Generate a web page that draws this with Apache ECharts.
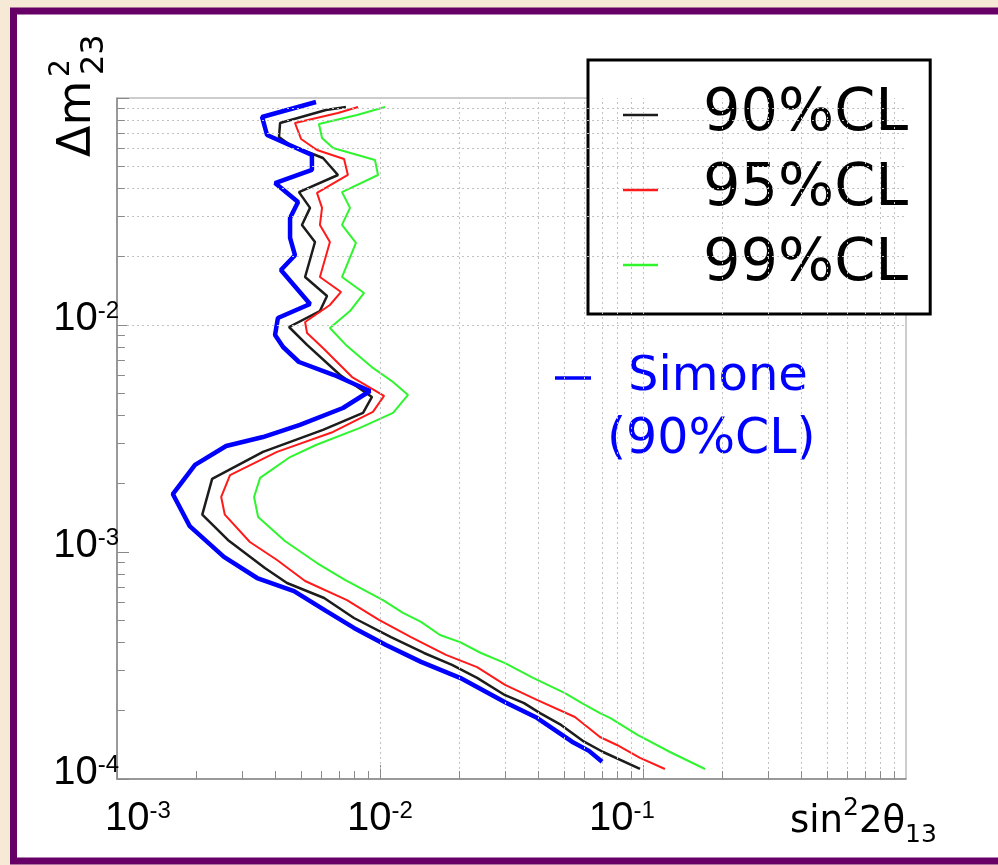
<!DOCTYPE html>
<html>
<head>
<meta charset="utf-8">
<title>sin22θ13 vs Δm223</title>
<script src="https://cdn.jsdelivr.net/npm/echarts@6/dist/echarts.min.js"></script>
<style>
  html, body { margin: 0; padding: 0; background: #f6e9d5; }
  #chart { width: 998px; height: 865px; }
</style>
</head>
<body>
<div id="chart"></div>
<script>
// contour points: x = sin^2 2theta13, y = dm^2_23
const cl90X = [7.42e-3, 6.23e-3, 4.17e-3, 4.13e-3, 4.55e-3, 6.07e-3, 6.92e-3, 4.92e-3, 5.42e-3, 5.05e-3, 5.66e-3, 5.19e-3, 6.29e-3, 5.91e-3, 4.51e-3, 5.28e-3, 7.05e-3, 9.32e-3, 8.62e-3, 6.07e-3, 3.59e-3, 2.30e-3, 2.11e-3, 2.64e-3, 3.65e-3, 4.43e-3, 6.13e-3, 7.96e-3, 1.101e-2, 1.470e-2, 1.878e-2, 2.34e-2, 2.99e-2, 3.53e-2, 4.06e-2, 4.88e-2, 5.97e-2, 7.05e-2, 9.74e-2];
const cl90Y = [9.13e-2, 8.85e-2, 7.76e-2, 6.73e-2, 6.21e-2, 5.44e-2, 4.58e-2, 3.85e-2, 3.28e-2, 2.76e-2, 2.32e-2, 1.627e-2, 1.342e-2, 1.152e-2, 9.80e-3, 8.17e-3, 6.02e-3, 4.82e-3, 4.10e-3, 3.45e-3, 2.76e-3, 2.10e-3, 1.46e-3, 1.13e-3, 8.50e-4, 7.30e-4, 6.27e-4, 5.12e-4, 4.22e-4, 3.59e-4, 3.18e-4, 2.79e-4, 2.34e-4, 2.16e-4, 1.95e-4, 1.73e-4, 1.46e-4, 1.315e-4, 1.107e-4];

const cl95X = [8.25e-3, 6.92e-3, 4.75e-3, 5.01e-3, 5.76e-3, 7.30e-3, 7.55e-3, 5.76e-3, 6.02e-3, 5.91e-3, 6.45e-3, 5.91e-3, 7.11e-3, 6.45e-3, 5.19e-3, 5.28e-3, 6.07e-3, 7.83e-3, 1.036e-2, 9.40e-3, 6.63e-3, 4.06e-3, 2.69e-3, 2.49e-3, 2.57e-3, 3.20e-3, 4.06e-3, 5.19e-3, 7.49e-3, 9.91e-3, 1.312e-2, 1.782e-2, 2.34e-2, 2.99e-2, 3.95e-2, 5.51e-2, 6.86e-2, 7.96e-2, 9.74e-2, 1.212e-1];
const cl95Y = [9.13e-2, 8.59e-2, 7.76e-2, 6.60e-2, 5.90e-2, 5.39e-2, 4.58e-2, 3.82e-2, 3.28e-2, 2.76e-2, 2.32e-2, 1.627e-2, 1.398e-2, 1.225e-2, 1.031e-2, 9.22e-3, 7.92e-3, 5.90e-3, 4.87e-3, 4.14e-3, 3.38e-3, 2.76e-3, 2.18e-3, 1.747e-3, 1.46e-3, 1.107e-3, 9.22e-4, 7.45e-4, 6.14e-4, 5.02e-4, 4.22e-4, 3.52e-4, 3.11e-4, 2.60e-4, 2.23e-4, 1.876e-4, 1.531e-4, 1.412e-4, 1.238e-4, 1.107e-4];

const cl99X = [1.045e-2, 8.18e-3, 5.86e-3, 6.02e-3, 6.63e-3, 9.57e-3, 9.83e-3, 7.17e-3, 7.69e-3, 7.17e-3, 8.10e-3, 7.17e-3, 8.70e-3, 7.69e-3, 6.45e-3, 7.42e-3, 9.40e-3, 1.121e-2, 1.278e-2, 1.121e-2, 8.39e-3, 5.71e-3, 4.55e-3, 3.50e-3, 3.32e-3, 3.44e-3, 4.35e-3, 5.76e-3, 7.36e-3, 1.027e-2, 1.223e-2, 1.432e-2, 1.691e-2, 2.015e-2, 2.42e-2, 2.99e-2, 3.82e-2, 5.05e-2, 5.86e-2, 6.86e-2, 7.49e-2, 9.57e-2, 1.267e-1, 1.721e-1];
const cl99Y = [9.13e-2, 8.42e-2, 7.68e-2, 6.66e-2, 6.02e-2, 5.33e-2, 4.58e-2, 3.85e-2, 3.28e-2, 2.76e-2, 2.30e-2, 1.627e-2, 1.384e-2, 1.152e-2, 9.70e-3, 8.17e-3, 6.47e-3, 5.61e-3, 4.92e-3, 4.10e-3, 3.52e-3, 2.96e-3, 2.62e-3, 2.12e-3, 1.747e-3, 1.426e-3, 1.118e-3, 8.94e-4, 7.53e-4, 6.14e-4, 5.39e-4, 4.92e-4, 4.31e-4, 4.01e-4, 3.59e-4, 3.24e-4, 2.79e-4, 2.39e-4, 2.16e-4, 1.95e-4, 1.86e-4, 1.562e-4, 1.315e-4, 1.107e-4];

// Simone (90%CL)
const simoneX = [5.71e-3, 3.56e-3, 3.72e-3, 5.51e-3, 5.51e-3, 3.99e-3, 4.88e-3, 4.55e-3, 4.55e-3, 4.75e-3, 4.20e-3, 5.42e-3, 4.09e-3, 3.99e-3, 4.28e-3, 4.92e-3, 6.69e-3, 9.16e-3, 7.23e-3, 4.96e-3, 3.59e-3, 2.60e-3, 1.98e-3, 1.63e-3, 1.89e-3, 2.55e-3, 3.41e-3, 4.71e-3, 6.23e-3, 7.96e-3, 1.054e-2, 1.432e-2, 2.015e-2, 2.99e-2, 3.95e-2, 5.37e-2, 6.23e-2, 6.99e-2];
const simoneY = [9.60e-2, 8.25e-2, 6.87e-2, 5.61e-2, 4.82e-2, 4.22e-2, 3.48e-2, 2.96e-2, 2.42e-2, 2.03e-2, 1.747e-2, 1.238e-2, 1.073e-2, 9.04e-3, 8.00e-3, 6.87e-3, 6.02e-3, 5.12e-3, 4.31e-3, 3.63e-3, 3.21e-3, 2.93e-3, 2.42e-3, 1.80e-3, 1.30e-3, 9.51e-4, 7.68e-4, 6.73e-4, 5.50e-4, 4.63e-4, 3.89e-4, 3.28e-4, 2.79e-4, 2.18e-4, 1.86e-4, 1.46e-4, 1.33e-4, 1.19e-4];

// axis decades and the tick labels shown on them
const xDecades = [1e-3, 1e-2, 1e-1];
const yDecades = [1e-4, 1e-3, 1e-2];
const xTickExp = ['-3', '-2', '-1'];
const yTickExp = ['-4', '-3', '-2'];
const minorSteps = [1, 2, 3, 4, 5, 6, 7, 8, 9];

const pairs = (xs, ys) => xs.map((x, i) => [x, ys[i]]);

const gridX = [];
xDecades.forEach(d => minorSteps.forEach(m => gridX.push(d * m)));
const gridY = [];
yDecades.forEach(d => minorSteps.forEach(m => gridY.push(d * m)));

// short tick marks inside the frame (in data units: a small fraction of a decade)
const X_MIN = 1e-3, Y_MIN = 1e-4;
const tickLenX = Math.pow(10, 0.03);
const tickLenY = Math.pow(10, 0.035);
const minorTickLines = gridY.map(v => [{ coord: [X_MIN, v] }, { coord: [X_MIN * tickLenX, v] }])
  .concat(gridX.map(v => [{ coord: [v, Y_MIN] }, { coord: [v, Y_MIN * tickLenY] }]));

const tickFont = 'Liberation Sans';
const textFont = 'DejaVu Sans';

const chartDom = document.getElementById('chart');
const myChart = echarts.init(chartDom);

const lineSeries = (name, xs, ys, color, width) => ({
  name: name,
  type: 'line',
  data: pairs(xs, ys),
  symbol: 'none',
  showSymbol: false,
  lineStyle: { color: color, width: width },
  itemStyle: { color: color },
  z: 3
});

const option = {
  animation: false,
  backgroundColor: '#f6e9d5',
  grid: {
    left: 117, right: 92, top: 98, bottom: 86,
    show: true, backgroundColor: '#fff', borderColor: '#9a9a9a', borderWidth: 1
  },
  xAxis: {
    type: 'log', logBase: 10, min: 1e-3, max: 1,
    axisLine: { lineStyle: { color: '#888', width: 1.5 } },
    axisTick: { inside: true, length: 14, lineStyle: { color: '#888' } },
    splitLine: { show: false },
    axisLabel: {
      margin: 20,
      showMaxLabel: false,
      formatter: function (v) {
        const i = xDecades.findIndex(d => Math.abs(Math.log10(v) - Math.log10(d)) < 0.01);
        if (i < 0) return '';
        const lab = '{b|10}{s|' + xTickExp[i] + '}';
        if (i === 0) return '{gap| }' + lab;
        if (i === 2) return lab + '{gap| }';
        return lab;
      },
      rich: {
        b: { fontFamily: tickFont, fontSize: 40, lineHeight: 40, color: '#000', verticalAlign: 'bottom' },
        s: { fontFamily: tickFont, fontSize: 24, lineHeight: 40, color: '#000', verticalAlign: 'top' },
        gap: { width: 42, fontSize: 10 }
      }
    }
  },
  yAxis: {
    type: 'log', logBase: 10, min: 1e-4, max: 1e-1,
    axisLine: { lineStyle: { color: '#888', width: 1.5 } },
    axisTick: { inside: true, length: 12, lineStyle: { color: '#888' } },
    splitLine: { show: false },
    axisLabel: {
      margin: -2,
      showMaxLabel: false,
      padding: [0, 0, 12, 0],
      formatter: function (v) {
        const i = yDecades.findIndex(d => Math.abs(Math.log10(v) - Math.log10(d)) < 0.01);
        if (i < 0) return '';
        return '{b|10}{s|' + yTickExp[i] + '}';
      },
      rich: {
        b: { fontFamily: tickFont, fontSize: 40, lineHeight: 40, color: '#000', verticalAlign: 'bottom' },
        s: { fontFamily: tickFont, fontSize: 24, lineHeight: 40, color: '#000', verticalAlign: 'top' }
      }
    }
  },
  legend: [
    {
      data: ['90%CL', '95%CL', '99%CL'],
      orient: 'vertical',
      left: 588, top: 60,
      padding: [24, 22, 18, 35],
      icon: 'rect',
      itemWidth: 35, itemHeight: 2.5, itemGap: 13,
      backgroundColor: '#fff',
      borderColor: '#000', borderWidth: 3,
      textStyle: { fontFamily: textFont, fontSize: 59, lineHeight: 62, color: '#000', padding: [0, 0, 0, 40] }
    },
    {
      data: ['Simone'],
      left: 555, top: 353,
      padding: 0,
      icon: 'rect',
      itemWidth: 36, itemHeight: 3.5,
      textStyle: { fontFamily: textFont, fontSize: 48, lineHeight: 50, color: '#0000ff', padding: [0, 0, 0, 32] }
    }
  ],
  graphic: [
    {
      type: 'rect', z: -10, silent: true,
      shape: { x: 13.5, y: 11, width: 1000, height: 850 },
      style: { fill: '#fff', stroke: '#660066', lineWidth: 7 }
    },
    {
      type: 'text', left: 607, top: 416, silent: true,
      style: { text: '(90%CL)', font: '49px "DejaVu Sans"', fill: '#0000ff' }
    },
    {
      type: 'text', left: 790, top: 796, silent: true,
      style: {
        text: '{n|sin}{sp|2}{n|2θ}{sb|13}',
        rich: {
          n: { fontFamily: textFont, fontSize: 37, lineHeight: 52, verticalAlign: 'middle', fill: '#000' },
          sp: { fontFamily: textFont, fontSize: 25, lineHeight: 24, verticalAlign: 'top', fill: '#000' },
          sb: { fontFamily: textFont, fontSize: 25, lineHeight: 24, verticalAlign: 'bottom', fill: '#000' }
        }
      }
    },
    {
      type: 'group', x: 78, y: 157, rotation: Math.PI / 2, silent: true,
      children: [
        { type: 'text', x: 0, y: 0, style: { text: 'Δm', font: '46px "DejaVu Sans"', fill: '#000', verticalAlign: 'middle' } },
        { type: 'text', x: 80, y: -16, style: { text: '2', font: '28px "DejaVu Sans"', fill: '#000', verticalAlign: 'middle' } },
        { type: 'text', x: 82, y: 17, style: { text: '23', font: '32px "DejaVu Sans"', fill: '#000', verticalAlign: 'middle' } }
      ]
    }
  ],
  series: [
    {
      name: 'grid',
      type: 'line',
      data: [],
      silent: true,
      z: 1,
      markLine: {
        silent: true,
        symbol: 'none',
        animation: false,
        label: { show: false },
        lineStyle: { color: '#c2c2c2', type: [2, 3], width: 1 },
        data: gridX.map(v => ({ xAxis: v })).concat(gridY.map(v => ({ yAxis: v })))
      }
    },
    {
      name: 'ticks',
      type: 'line',
      data: [],
      silent: true,
      z: 2,
      markLine: {
        silent: true,
        symbol: 'none',
        animation: false,
        label: { show: false },
        lineStyle: { color: '#8a8a8a', type: 'solid', width: 1 },
        data: minorTickLines
      }
    },
    lineSeries('90%CL', cl90X, cl90Y, '#1c1c1c', 2.5),
    lineSeries('95%CL', cl95X, cl95Y, '#ff1a1a', 2),
    lineSeries('99%CL', cl99X, cl99Y, '#2ef52e', 2),
    lineSeries('Simone', simoneX, simoneY, '#0000ff', 4.5)
  ]
};

myChart.setOption(option);
</script>
</body>
</html>
